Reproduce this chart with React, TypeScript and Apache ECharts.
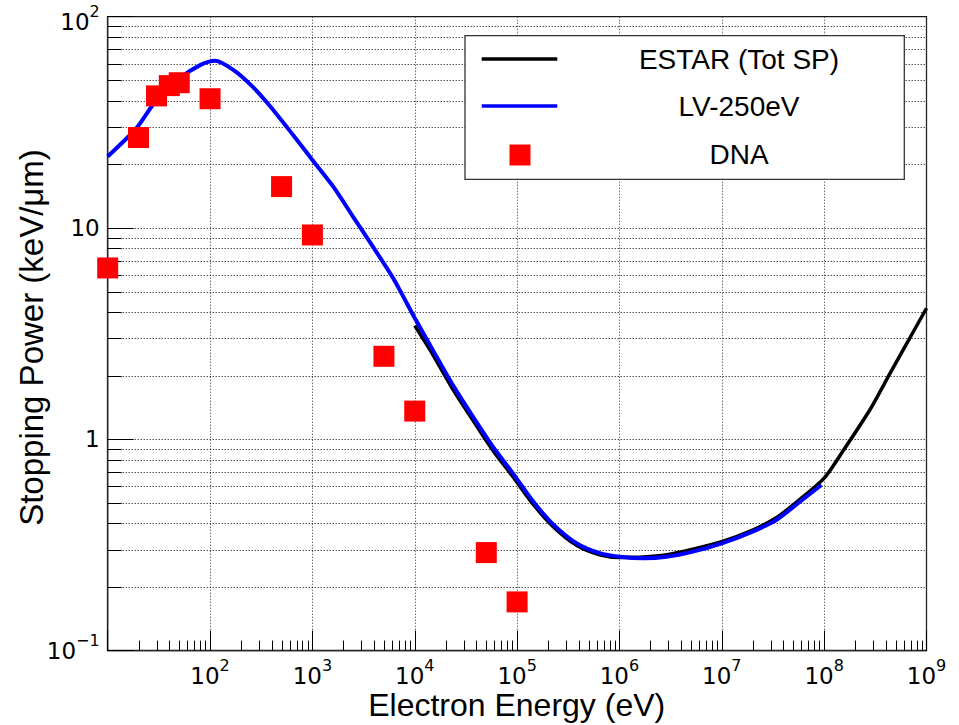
import React, { useEffect, useRef } from "react";
import * as echarts from "echarts";

// ---- axis ranges ----
const X_MIN = 10;
const X_MAX = 1e9;
const Y_MIN = 0.1;
const Y_MAX = 100;

// ---- data ----
const estarEnergy = [1e4, 1.5e4, 2.4e4, 3.7e4, 5.8e4, 9.1e4, 1.4e5, 2.2e5, 3.8e5, 6.4e5, 1e6, 1.7e6, 2.9e6, 5.2e6, 1e7, 2e7, 3.4e7, 5.8e7, 1e8, 1.55e8, 2.8e8, 4.4e8, 6.3e8, 1e9];
const estarSP = [3.45, 2.52, 1.7, 1.23, 0.885, 0.665, 0.5, 0.39, 0.315, 0.284, 0.276, 0.277, 0.284, 0.302, 0.328, 0.372, 0.425, 0.52, 0.655, 0.89, 1.38, 2.05, 2.8, 4.17];

const lvEnergy = [10, 19, 30, 50, 80, 112, 170, 260, 390, 650, 1000, 1600, 2500, 3900, 6200, 1e4, 1.5e4, 2.4e4, 3.7e4, 5.8e4, 9.1e4, 1.4e5, 2.2e5, 3.8e5, 6.4e5, 1e6, 1.7e6, 2.9e6, 5.2e6, 1e7, 2e7, 3.4e7, 5.8e7, 9.4e7];
const lvSP = [21.8, 29.6, 40.4, 51, 59, 61.9, 55.9, 46.7, 37.5, 27.5, 21.0, 15.7, 11.3, 8.16, 5.75, 3.75, 2.65, 1.78, 1.28, 0.922, 0.69, 0.516, 0.4, 0.322, 0.289, 0.278, 0.2735, 0.278, 0.294, 0.322, 0.366, 0.415, 0.507, 0.608];

const dnaEnergy = [10, 20, 30, 40, 50, 100, 500, 1000, 5000, 1e4, 5e4, 1e5];
const dnaSP = [6.47, 26.8, 42.2, 47.2, 48.7, 40.9, 15.7, 9.27, 2.47, 1.36, 0.291, 0.17];

const legendLabels = ["ESTAR (Tot SP)", "LV-250eV", "DNA"];
const xTitle = "Electron Energy (eV)";
const yTitle = "Stopping Power (keV/\u03bcm)";

// ---- minor tick positions (2..9 x each decade) ----
const minorMultipliers = [2, 3, 4, 5, 6, 7, 8, 9];
const xDecades = [1e1, 1e2, 1e3, 1e4, 1e5, 1e6, 1e7, 1e8];
const yDecades = [0.1, 1, 10];
const xMinorTicks = xDecades.flatMap((d) => minorMultipliers.map((m) => m * d));
const yMinorTicks = yDecades.flatMap((d) => minorMultipliers.map((m) => m * d));

const LABEL_FONT = "DejaVu Sans";
const TEXT_FONT = "Liberation Sans";

const supText = (e: number) => (e < 0 ? "\u2212" + -e : String(e));

const labelRich = {
  b: { fontSize: 23, fontFamily: LABEL_FONT, color: "#000" },
  s: { fontSize: 16, fontFamily: LABEL_FONT, color: "#000", padding: [0, 0, 20, 0] },
  t: { fontSize: 23, fontFamily: LABEL_FONT, color: "#000", padding: [10, 0, 0, 0] },
  u: { fontSize: 16, fontFamily: LABEL_FONT, color: "#000", padding: [0, 0, 10, 0] },
};

const snap = (v: number) => Math.round(v) + 0.5;

export default function App() {
  const ref = useRef<HTMLDivElement>(null);

  useEffect(() => {
    document.body.style.margin = "0";
    if (!ref.current) return;
    const chart = echarts.init(ref.current, null, { renderer: "svg" });

    const option: any = {
      animation: false,
      backgroundColor: "#fff",
      grid: {
        left: 107.7,
        right: 32.5,
        top: 16.7,
        bottom: 74.4,
        show: true,
        borderColor: "#222",
        borderWidth: 1.3,
        backgroundColor: "#fff",
        containLabel: false,
        outerBoundsMode: "none",
      },
      xAxis: {
        type: "log",
        logBase: 10,
        min: X_MIN,
        max: X_MAX,
        splitNumber: 8,
        axisLine: { show: true, onZero: false, lineStyle: { color: "#222", width: 1.3 } },
        axisTick: { show: true, inside: true, length: 20, lineStyle: { color: "#000", width: 1 } },
        splitLine: { show: true, lineStyle: { color: "#333", width: 1, type: [1, 2] } },
        axisLabel: {
          show: true,
          interval: 0,
          margin: 7,
          showMinLabel: true,
          showMaxLabel: true,
          hideOverlap: false,
          formatter: (v: number) => {
            const e = Math.round(Math.log10(v));
            if (e === 1) return "";
            return `{b|10}{s|${supText(e)}}`;
          },
          rich: labelRich,
        },
      },
      yAxis: {
        type: "log",
        logBase: 10,
        min: Y_MIN,
        max: Y_MAX,
        splitNumber: 3,
        axisLine: { show: true, onZero: false, lineStyle: { color: "#222", width: 1.3 } },
        axisTick: { show: true, inside: true, length: 26, lineStyle: { color: "#000", width: 1 } },
        splitLine: { show: true, lineStyle: { color: "#000", width: 1, type: [1, 2] } },
        axisLabel: {
          show: true,
          interval: 0,
          margin: 8,
          showMinLabel: true,
          showMaxLabel: true,
          hideOverlap: false,
          formatter: (v: number) => {
            const e = Math.round(Math.log10(v));
            if (e === 0) return "{b|1}";
            if (e === 1) return "{b|10}";
            if (e === 2) return `{t|10}{u|${supText(e)}}`;
            return `{b|10}{s|${supText(e)}}`;
          },
          rich: labelRich,
        },
      },
      series: [
        {
          type: "custom",
          name: "yMinor",
          silent: true,
          z: 1,
          encode: { x: 0, y: 1 },
          data: yMinorTicks.map((v) => [X_MIN, v]),
          renderItem: (_p: any, api: any) => {
            const v = api.value(1);
            const a = api.coord([X_MIN, v]);
            const b = api.coord([X_MAX, v]);
            const y = snap(a[1]);
            return {
              type: "group",
              children: [
                {
                  type: "line",
                  shape: { x1: a[0], y1: y, x2: b[0], y2: y },
                  style: { stroke: "#000", lineWidth: 1, lineDash: [1, 2] },
                },
                {
                  type: "line",
                  shape: { x1: a[0], y1: y, x2: a[0] + 14, y2: y },
                  style: { stroke: "#000", lineWidth: 1 },
                },
              ],
            };
          },
        },
        {
          type: "custom",
          name: "xMinor",
          silent: true,
          z: 1,
          encode: { x: 0, y: 1 },
          data: xMinorTicks.map((v) => [v, Y_MIN]),
          renderItem: (_p: any, api: any) => {
            const v = api.value(0);
            const a = api.coord([v, Y_MIN]);
            const x = snap(a[0]);
            return {
              type: "line",
              shape: { x1: x, y1: a[1], x2: x, y2: a[1] - 10 },
              style: { stroke: "#000", lineWidth: 1 },
            };
          },
        },
        {
          type: "line",
          name: legendLabels[0],
          data: estarEnergy.map((e, i) => [e, estarSP[i]]),
          symbol: "none",
          showSymbol: false,
          smooth: 0.25,
          lineStyle: { color: "#000", width: 3.5 },
          z: 3,
        },
        {
          type: "line",
          name: legendLabels[1],
          data: lvEnergy.map((e, i) => [e, lvSP[i]]),
          symbol: "none",
          showSymbol: false,
          smooth: 0.25,
          lineStyle: { color: "#0000ff", width: 4 },
          z: 4,
        },
        {
          type: "scatter",
          name: legendLabels[2],
          data: dnaEnergy.map((e, i) => [e, dnaSP[i]]),
          symbol: "rect",
          symbolSize: 21,
          clip: false,
          itemStyle: { color: "#ff0000", opacity: 1 },
          z: 5,
        },
      ],
      graphic: {
        elements: [
          {
            type: "rect",
            z: 100,
            shape: { x: 465, y: 35.7, width: 439.3, height: 143.6 },
            style: { fill: "#fff", stroke: "#333", lineWidth: 1.3 },
          },
          {
            type: "line",
            z: 101,
            shape: { x1: 481.7, y1: 59, x2: 557.3, y2: 59 },
            style: { stroke: "#000", lineWidth: 3.5 },
          },
          {
            type: "line",
            z: 101,
            shape: { x1: 481.7, y1: 106, x2: 557.3, y2: 106 },
            style: { stroke: "#0000ff", lineWidth: 3.5 },
          },
          {
            type: "rect",
            z: 101,
            shape: { x: 509.5, y: 144.5, width: 21, height: 21 },
            style: { fill: "#ff0000" },
          },
          ...legendLabels.map((t, i) => ({
            type: "text",
            z: 101,
            x: 739,
            y: [59, 106, 154][i],
            style: {
              text: t,
              fontSize: 28,
              fontFamily: TEXT_FONT,
              fill: "#000",
              align: "center",
              verticalAlign: "middle",
              textAlign: "center",
              textVerticalAlign: "middle",
            },
          })),
          {
            type: "text",
            z: 101,
            x: 516.7,
            y: 705,
            style: {
              text: xTitle,
              fontSize: 32,
              fontFamily: TEXT_FONT,
              fill: "#000",
              align: "center",
              verticalAlign: "middle",
              textAlign: "center",
              textVerticalAlign: "middle",
            },
          },
          {
            type: "text",
            z: 101,
            x: 31,
            y: 337.5,
            rotation: Math.PI / 2,
            style: {
              text: yTitle,
              fontSize: 33,
              fontFamily: TEXT_FONT,
              fill: "#000",
              align: "center",
              verticalAlign: "middle",
              textAlign: "center",
              textVerticalAlign: "middle",
            },
          },
        ],
      },
    };

    chart.setOption(option);
    return () => {
      chart.dispose();
    };
  }, []);

  return <div ref={ref} style={{ width: 959, height: 725 }} />;
}
